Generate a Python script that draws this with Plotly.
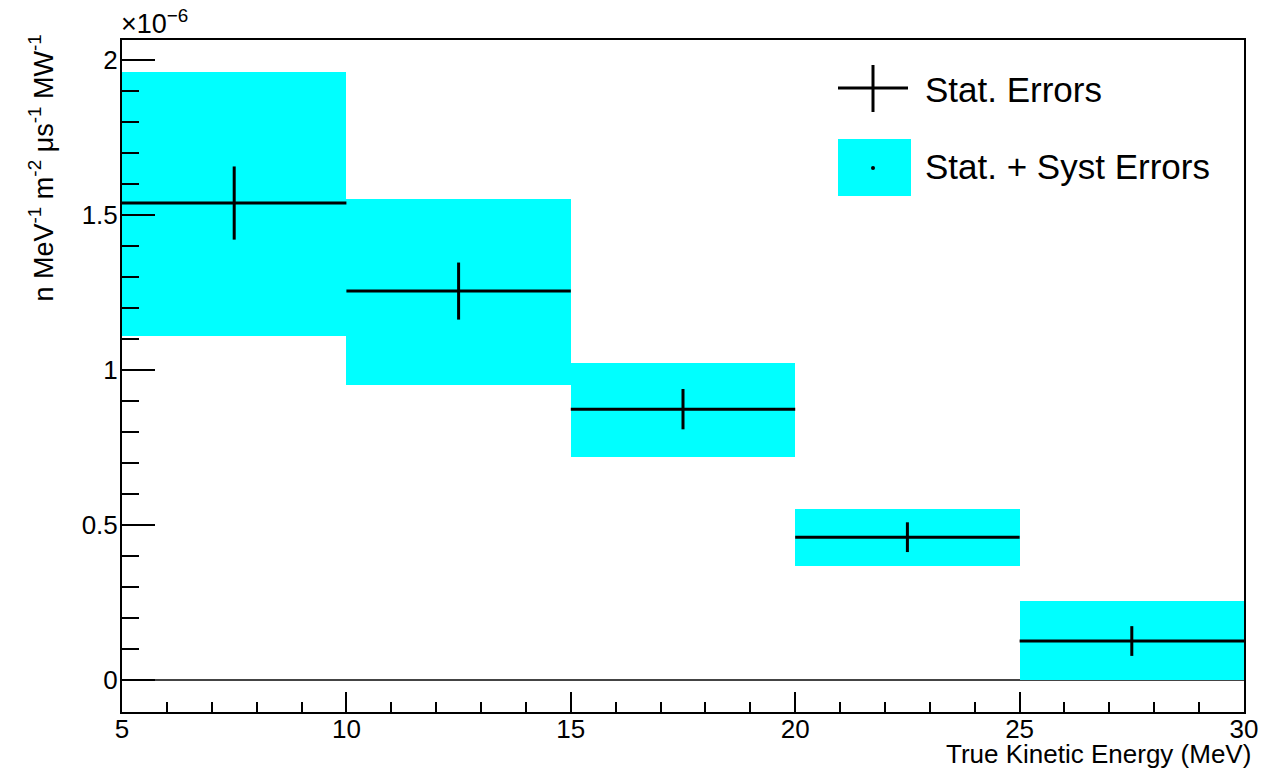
import plotly.graph_objects as go

# Data (y values in units of 1e-6 n MeV^-1 m^-2 us^-1 MW^-1)
bin_low = [5, 10, 15, 20, 25]
bin_high = [10, 15, 20, 25, 30]
flux = [1.539, 1.255, 0.874, 0.461, 0.126]
stat_err = [0.118, 0.092, 0.065, 0.048, 0.048]
syst_low = [1.110, 0.952, 0.719, 0.368, 0.0]
syst_high = [1.961, 1.552, 1.023, 0.552, 0.255]

centers = [(a + b) / 2 for a, b in zip(bin_low, bin_high)]
half_w = [(b - a) / 2 for a, b in zip(bin_low, bin_high)]
widths = [b - a for a, b in zip(bin_low, bin_high)]
heights = [h - l for h, l in zip(syst_high, syst_low)]

FONT = "Liberation Sans, Arial, sans-serif"
OFF = 8  # page body margin
W, H = 1286 - 2 * OFF, 776 - 2 * OFF
# plot area in page pixels: x 122..1244, y 40..712
L = 122 - OFF
T = 40 - OFF
R = W - (1244 - OFF)
B = H - (712 - OFF)
PW, PH = W - L - R, H - T - B


def px(x):
    return (x - OFF - L) / PW


def py(y):
    return (H - B - (y - OFF)) / PH


fig = go.Figure()
fig.add_trace(go.Bar(
    x=centers, y=heights, base=syst_low, width=widths,
    marker=dict(color="#00FFFF", line=dict(width=0)),
    showlegend=False, hoverinfo="skip",
))
fig.add_trace(go.Scatter(
    x=centers, y=flux, mode="markers",
    marker=dict(size=1, color="black"),
    error_x=dict(type="data", array=half_w, color="black", thickness=3, width=0),
    error_y=dict(type="data", array=stat_err, color="black", thickness=3, width=0),
    showlegend=False,
))

# Legend drawn in paper coordinates
shapes = [
    dict(type="rect", xref="paper", yref="paper", x0=px(838), x1=px(911), y0=py(196), y1=py(139),
         fillcolor="#00FFFF", line=dict(width=0)),
    dict(type="line", xref="paper", yref="paper", x0=px(838), x1=px(908), y0=py(88), y1=py(88),
         line=dict(color="black", width=3)),
    dict(type="line", xref="paper", yref="paper", x0=px(873), x1=px(873), y0=py(65), y1=py(112),
         line=dict(color="black", width=3)),
    dict(type="circle", xref="paper", yref="paper", x0=px(871), x1=px(875), y0=py(170), y1=py(166),
         fillcolor="black", line=dict(width=0)),
]
annotations = [
    dict(text="Stat. Errors", xref="paper", yref="paper", x=px(923), y=py(90),
         xanchor="left", yanchor="middle", showarrow=False, font=dict(size=35, color="black", family=FONT)),
    dict(text="Stat. + Syst Errors", xref="paper", yref="paper", x=px(923), y=py(166),
         xanchor="left", yanchor="middle", showarrow=False, font=dict(size=35, color="black", family=FONT)),
    dict(text="×10<sup>−6</sup>", xref="paper", yref="paper", x=px(119), y=py(41),
         xanchor="left", yanchor="bottom", showarrow=False, font=dict(size=27, color="black", family=FONT)),
    dict(text="True Kinetic Energy (MeV)", xref="paper", yref="paper", x=px(1253), y=py(754),
         xanchor="right", yanchor="middle", showarrow=False, font=dict(size=26, color="black", family=FONT)),
    dict(text="n MeV<sup>-1</sup> m<sup>-2</sup> μs<sup>-1</sup> MW<sup>-1</sup>", xref="paper", yref="paper",
         x=px(42), y=py(33), xanchor="center", yanchor="top", textangle=-90, showarrow=False,
         font=dict(size=27, color="black", family=FONT)),
]

fig.update_layout(
    width=W, height=H,
    margin=dict(l=L, r=R, t=T, b=B),
    plot_bgcolor="white", paper_bgcolor="white",
    font=dict(family=FONT, color="black"),
    shapes=shapes, annotations=annotations,
    bargap=0,
)
fig.update_xaxes(
    range=[5, 30], tickmode="array", tickvals=[5, 10, 15, 20, 25, 30],
    ticks="inside", ticklen=20, tickwidth=2, tickcolor="black",
    minor=dict(dtick=1, tick0=5, ticks="inside", ticklen=10, tickwidth=2, tickcolor="black"),
    showline=True, linecolor="black", linewidth=2, mirror=True,
    showgrid=False, zeroline=False, tickfont=dict(size=26), layer="above traces",
    ticklabelstandoff=-7,
)
fig.update_yaxes(
    range=[-0.103, 2.065], tickmode="array", tickvals=[0, 0.5, 1, 1.5, 2],
    ticktext=["0", "0.5", "1", "1.5", "2"],
    ticks="inside", ticklen=33, tickwidth=2, tickcolor="black",
    minor=dict(dtick=0.1, tick0=0, ticks="inside", ticklen=17, tickwidth=2, tickcolor="black"),
    showline=True, linecolor="black", linewidth=2, mirror=True,
    showgrid=False, zeroline=True, zerolinecolor="#444", zerolinewidth=2,
    tickfont=dict(size=26), layer="above traces", ticklabelstandoff=-3,
)

fig.write_html("out.html")
